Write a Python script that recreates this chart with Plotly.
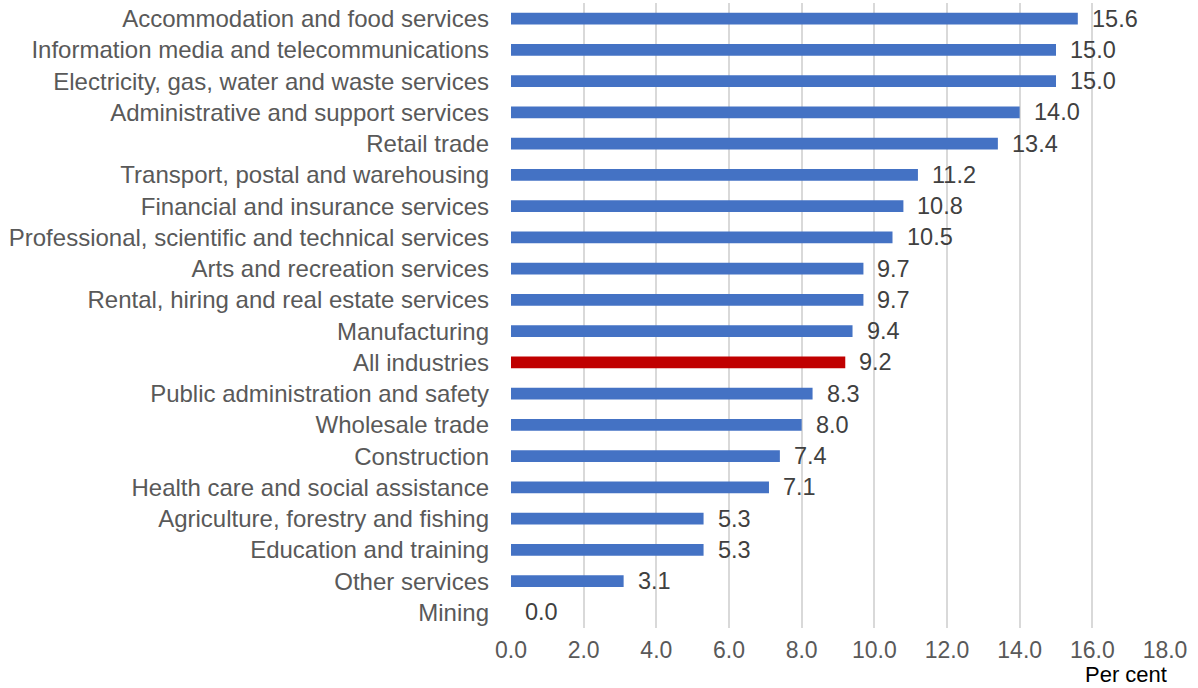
import plotly.graph_objects as go

# Share of workers, by industry (per cent), listed top to bottom
industries = [
    "Accommodation and food services",
    "Information media and telecommunications",
    "Electricity, gas, water and waste services",
    "Administrative and support services",
    "Retail trade",
    "Transport, postal and warehousing",
    "Financial and insurance services",
    "Professional, scientific and technical services",
    "Arts and recreation services",
    "Rental, hiring and real estate services",
    "Manufacturing",
    "All industries",
    "Public administration and safety",
    "Wholesale trade",
    "Construction",
    "Health care and social assistance",
    "Agriculture, forestry and fishing",
    "Education and training",
    "Other services",
    "Mining",
]
values = [15.6, 15.0, 15.0, 14.0, 13.4, 11.2, 10.8, 10.5, 9.7, 9.7,
          9.4, 9.2, 8.3, 8.0, 7.4, 7.1, 5.3, 5.3, 3.1, 0.0]
x_ticks = [0, 2, 4, 6, 8, 10, 12, 14, 16, 18]

BLUE = "#4472C4"
RED = "#C00000"
LABEL_GREY = "#595959"
VALUE_GREY = "#404040"
FONT = "Liberation Sans, Arial, sans-serif"

colors = [RED if name == "All industries" else BLUE for name in industries]

fig = go.Figure(
    go.Bar(
        x=values,
        y=industries,
        orientation="h",
        marker=dict(color=colors, line=dict(width=0)),
        width=0.375,
        hoverinfo="x+y",
    )
)

# Value labels just past the end of each bar
for name, v in zip(industries, values):
    fig.add_annotation(
        x=v, y=name, xref="x", yref="y",
        text=f"{v:.1f}", showarrow=False,
        xanchor="left", yanchor="middle", xshift=12,
        font=dict(family=FONT, size=23.5, color=VALUE_GREY),
    )

# Axis unit, tucked under the right end of the value axis
fig.add_annotation(
    x=1, y=0, xref="paper", yref="paper",
    text="Per cent", showarrow=False,
    xanchor="right", yanchor="bottom", xshift=3, yshift=-60,
    borderpad=0,
    font=dict(family=FONT, size=22, color="#000000"),
)

fig.update_layout(
    width=1198,
    height=688,
    margin=dict(l=511, r=33, t=3, b=60),
    paper_bgcolor="white",
    plot_bgcolor="white",
    showlegend=False,
    bargap=0.6,
    font=dict(family=FONT, size=23, color=LABEL_GREY),
)

fig.update_xaxes(
    range=[0, 18],
    tickvals=x_ticks,
    ticktext=[f"{t:.1f}" for t in x_ticks],
    showgrid=True,
    gridcolor="#D9D9D9",
    gridwidth=2,
    zeroline=False,
    showline=False,
    ticks="",
    ticklabelstandoff=6,
    tickfont=dict(family=FONT, size=23, color=LABEL_GREY),
    fixedrange=True,
)
fig.update_yaxes(
    autorange="reversed",
    showgrid=False,
    showline=False,
    ticks="",
    ticklabelstandoff=21,
    tickfont=dict(family=FONT, size=24, color=LABEL_GREY),
    fixedrange=True,
)

fig.write_html("out.html")
